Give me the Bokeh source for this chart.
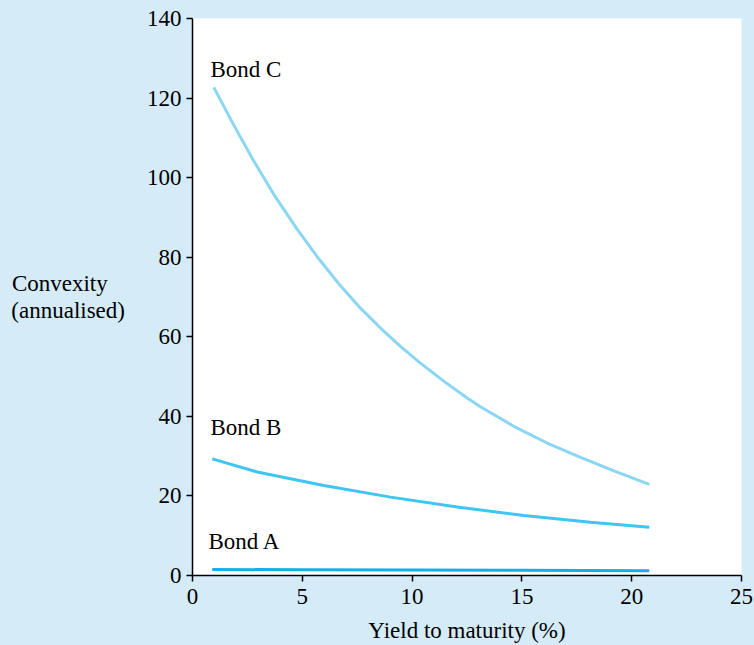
from bokeh.plotting import figure
from bokeh.models import Range1d, FixedTicker, Label
from bokeh.embed import file_html
from bokeh.resources import INLINE

# Data
bond_c_x = [0.97, 1.88, 2.79, 3.70, 4.77, 5.75, 6.74, 7.65, 8.71, 9.47, 10.35, 11.5, 12.51,
            13.11, 14.63, 16.15, 17.67, 19.19, 20.8]
bond_c_y = [122.7, 113.2, 104.2, 95.8, 87.0, 79.6, 72.8, 67.2, 61.4, 57.6, 53.5, 48.6, 44.6,
            42.4, 37.5, 33.3, 29.7, 26.3, 22.9]
bond_b_x = [0.9, 2.95, 5.98, 9.02, 12.05, 15.09, 18.12, 20.8]
bond_b_y = [29.3, 26.0, 22.6, 19.7, 17.2, 15.1, 13.4, 12.1]
bond_a_x = [0.9, 5.0, 10.0, 15.0, 20.8]
bond_a_y = [1.5, 1.45, 1.38, 1.3, 1.2]
x_ticks = [0, 5, 10, 15, 20, 25]
y_ticks = [0, 20, 40, 60, 80, 100, 120, 140]

BG = "#d5ebf8"
FONT = "Liberation Serif"
FS = "23px"

p = figure(width=754, height=645, output_backend="svg", toolbar_location=None,
           x_range=Range1d(0, 25), y_range=Range1d(0, 140),
           min_border_left=192, min_border_right=13, min_border_top=18, min_border_bottom=70)
p.background_fill_color = "white"
p.border_fill_color = BG
p.outline_line_color = None
p.xgrid.visible = False
p.ygrid.visible = False

for ax in (p.xaxis[0], p.yaxis[0]):
    ax.axis_line_color = "black"
    ax.axis_line_width = 1.5
    ax.major_tick_line_color = "black"
    ax.major_tick_line_width = 1.5
    ax.major_tick_out = 6
    ax.major_tick_in = 0
    ax.minor_tick_line_color = None
    ax.major_label_text_font = FONT
    ax.major_label_text_font_size = FS
    ax.major_label_text_color = "black"
    ax.axis_label_text_font = FONT
    ax.axis_label_text_font_size = FS
    ax.axis_label_text_font_style = "normal"
    ax.axis_label_text_color = "black"

p.xaxis.ticker = FixedTicker(ticks=x_ticks)
p.yaxis.ticker = FixedTicker(ticks=y_ticks)
p.xaxis.major_label_standoff = 7
p.yaxis.major_label_standoff = 5
p.xaxis.axis_label = "Yield to maturity (%)"
p.xaxis.axis_label_standoff = 11
# trailing no-break spaces keep the first line visually left-aligned with the second
p.yaxis.axis_label = "Convexity\u00a0\u00a0\u00a0\n(annualised)"
p.yaxis.axis_label_orientation = "horizontal"
p.yaxis.axis_label_standoff = 19
p.yaxis.axis_label_text_line_height = 1.1

p.line(bond_c_x, bond_c_y, line_color="#8ad6f4", line_width=3)
p.line(bond_b_x, bond_b_y, line_color="#3ec5f1", line_width=3)
p.line(bond_a_x, bond_a_y, line_color="#14ade6", line_width=3)

for txt, x, y in [("Bond C", 0.82, 127.2), ("Bond B", 0.82, 37.2), ("Bond A", 0.73, 8.6)]:
    p.add_layout(Label(x=x, y=y, text=txt, text_font=FONT, text_font_size=FS,
                       text_color="black", text_baseline="alphabetic", text_align="left"))

html = file_html(p, INLINE)
html = html.replace("</head>", "<style>html,body{background:%s !important;margin:0 !important;overflow:hidden;}</style></head>" % BG, 1)
open("out.html", "w").write(html)
